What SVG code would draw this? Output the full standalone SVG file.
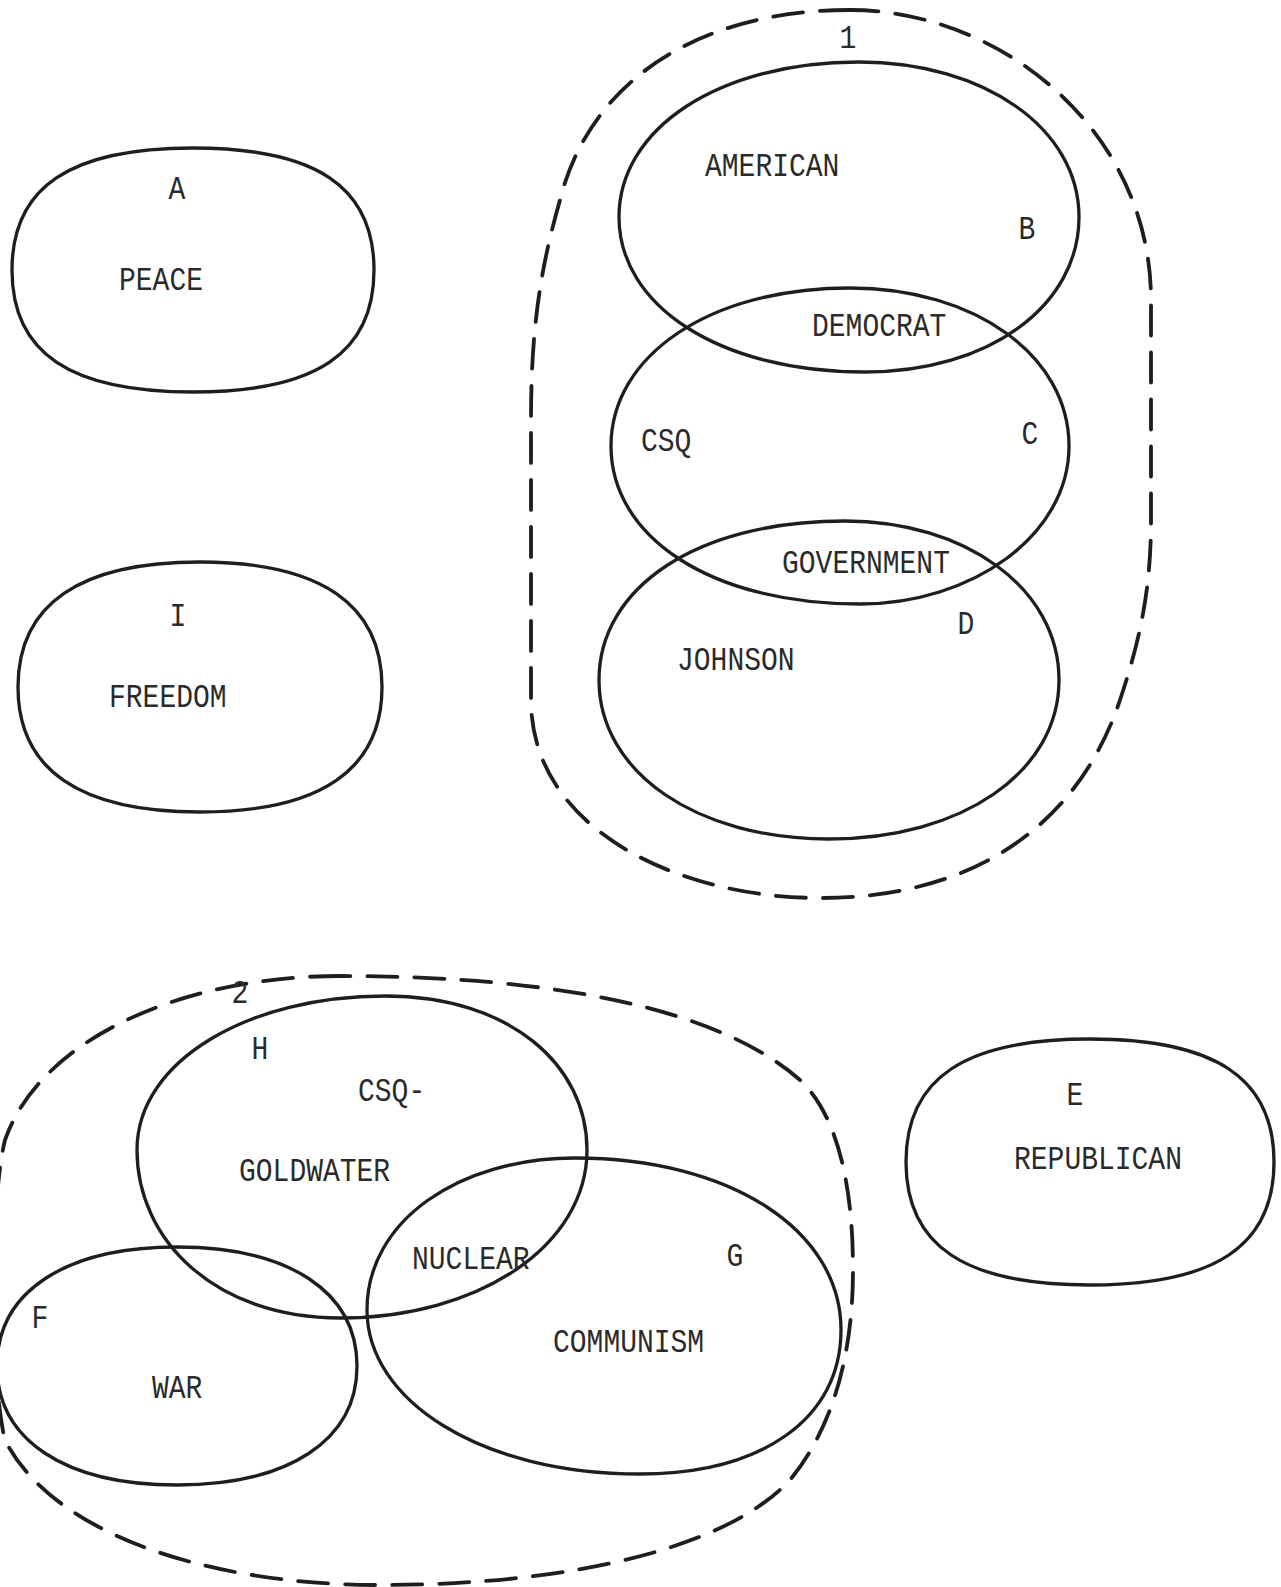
<svg xmlns="http://www.w3.org/2000/svg" width="1281" height="1587" viewBox="0 0 1281 1587">
<style>
.o{fill:none;stroke:#1e1e1e;stroke-width:3.3;stroke-linejoin:round}
.d{fill:none;stroke:#1e1e1e;stroke-width:3.8;stroke-dasharray:30 17;stroke-linecap:round}
text{font-family:"Liberation Mono","DejaVu Sans Mono",monospace;font-size:28px;fill:#2a2a2a}
.c{text-anchor:middle}
</style>
<rect width="1281" height="1587" fill="#ffffff"/>
<g id="connectors"></g>
<g id="group1">
<path class="d" d="M 850,10 C 700,10 590,80 560,200 C 540,270 531,330 531,420 L 531,700 C 531,830 680,898 820,898 C 980,898 1080,820 1120,700 C 1140,640 1151,590 1151,520 L 1151,300 C 1151,130 1000,10 850,10 Z"/>
<text class="c" transform="translate(848,48) scale(1,1.18)">1</text>
</g>
<g id="group2">
<path class="d" d="M 340,976 C 180,976 40,1040 5,1140 C -10,1200 -10,1380 5,1440 C 50,1530 200,1585 380,1585 C 580,1585 730,1545 790,1480 C 835,1425 853,1350 853,1270 C 853,1170 832,1110 800,1080 C 720,1010 560,976 340,976 Z"/>
<text class="c" transform="translate(240,1003) scale(1,1.18)">2</text>
</g>
<g id="nodeA">
<path class="o" d="M 12,270 C 12,187 70,148 193,148 C 316,148 374,187 374,270 C 374,353 316,392 193,392 C 70,392 12,353 12,270 Z"/>
<text class="c" transform="translate(177,199) scale(1,1.18)">A</text>
<text transform="translate(119,290) scale(1,1.18)">PEACE</text>
</g>
<g id="nodeI">
<path class="o" d="M 18,687 C 18,604 80,562 200,562 C 320,562 382,604 382,687 C 382,770 320,812 200,812 C 80,812 18,770 18,687 Z"/>
<text class="c" transform="translate(178,626) scale(1,1.18)">I</text>
<text transform="translate(109,707) scale(1,1.18)">FREEDOM</text>
</g>
<g id="nodeB">
<path class="o" d="M 619,217 C 619,129 718,62 859,62 C 985,62 1079,129 1079,217 C 1079,305 990,372 865,372 C 718,372 619,305 619,217 Z"/>
<text transform="translate(705,176) scale(1,1.18)">AMERICAN</text>
<text class="c" transform="translate(1027,239) scale(1,1.18)">B</text>
</g>
<g id="nodeC">
<path class="o" d="M 611,446 C 611,356 709,288 850,288 C 975,288 1069,356 1069,446 C 1069,536 971,604 860,604 C 709,604 611,536 611,446 Z"/>
<text transform="translate(812,336) scale(1,1.18)">DEMOCRAT</text>
<text transform="translate(641,451) scale(1,1.18)">CSQ</text>
<text class="c" transform="translate(1030,444) scale(1,1.18)">C</text>
</g>
<g id="nodeD">
<path class="o" d="M 599,680 C 599,588 696,521 845,521 C 965,521 1059,588 1059,680 C 1059,772 962,839 829,839 C 696,839 599,772 599,680 Z"/>
<text transform="translate(782,573) scale(1,1.18)">GOVERNMENT</text>
<text class="c" transform="translate(966,634) scale(1,1.18)">D</text>
<text transform="translate(677,670) scale(1,1.18)">JOHNSON</text>
</g>
<g id="nodeH">
<path class="o" d="M 137,1150 C 137,1060 250,996 385,996 C 510,996 587,1065 587,1150 C 587,1245 480,1318 340,1318 C 215,1318 137,1240 137,1150 Z"/>
<text class="c" transform="translate(260,1059) scale(1,1.18)">H</text>
<text transform="translate(358,1101) scale(1,1.18)">CSQ-</text>
<text transform="translate(239,1181) scale(1,1.18)">GOLDWATER</text>
</g>
<g id="nodeF">
<path class="o" d="M -3,1366 C -3,1292 65,1247 177,1247 C 289,1247 357,1292 357,1366 C 357,1440 289,1485 177,1485 C 65,1485 -3,1440 -3,1366 Z"/>
<text class="c" transform="translate(40,1328) scale(1,1.18)">F</text>
<text transform="translate(152,1398) scale(1,1.18)">WAR</text>
</g>
<g id="nodeG">
<path class="o" d="M 367,1310 C 367,1220 460,1158 575,1158 C 730,1158 841,1230 841,1330 C 841,1420 760,1474 640,1474 C 480,1474 367,1400 367,1310 Z"/>
<text transform="translate(412,1269) scale(1,1.18)">NUCLEAR</text>
<text class="c" transform="translate(735,1266) scale(1,1.18)">G</text>
<text transform="translate(553,1352) scale(1,1.18)">COMMUNISM</text>
</g>
<g id="nodeE">
<path class="o" d="M 906,1162 C 906,1078 965,1039 1090,1039 C 1215,1039 1274,1078 1274,1162 C 1274,1246 1215,1285 1090,1285 C 965,1285 906,1246 906,1162 Z"/>
<text class="c" transform="translate(1075,1105) scale(1,1.18)">E</text>
<text transform="translate(1014,1169) scale(1,1.18)">REPUBLICAN</text>
</g>
</svg>
